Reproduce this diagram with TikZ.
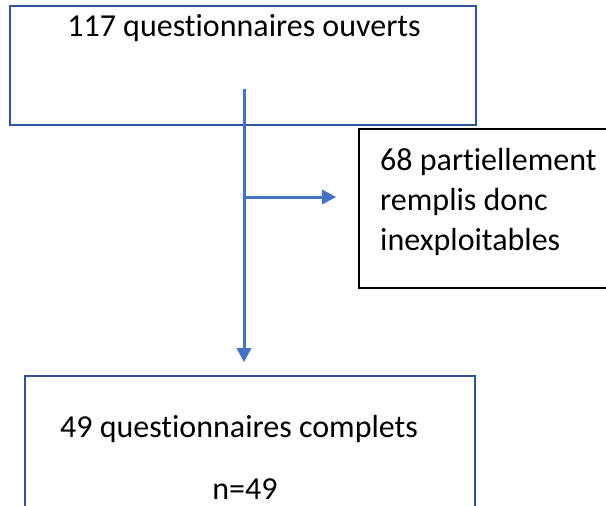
\documentclass[tikz,border=0pt]{standalone}
\usepackage{fontspec}
\setmainfont[Ligatures=NoCommon]{Carlito}
\usetikzlibrary{arrows.meta}
\definecolor{boxblue}{HTML}{2F5597}
\definecolor{arrowblue}{HTML}{4472C4}
\tikzset{
  bluebox/.style={draw=boxblue, line width=1.6pt, rectangle, inner sep=0pt},
  blackbox/.style={draw=black, line width=1.6pt, rectangle, inner sep=0pt},
  lbl/.style={font=\fontsize{32}{40}\selectfont, inner sep=0pt},
  flow/.style={draw=arrowblue, line width=3pt, -{Triangle[length=14pt,width=14pt]}}
}
\begin{document}
\begin{tikzpicture}[x=1pt,y=-1pt]
\clip (0,0) rectangle (606,506);
\fill[white] (0,0) rectangle (606,506);
\node[bluebox, minimum width=466pt, minimum height=119pt] (top) at (243,65.5) {};
\node[lbl] (toptext) at (244,28) {117 questionnaires ouverts};
\node[blackbox, minimum width=281pt, minimum height=159pt] (right) at (499.5,208.5) {};
\node[lbl, align=left, anchor=west] (righttext) at (380,202) {68 partiellement\\remplis donc\\inexploitables};
\node[bluebox, minimum width=450pt, minimum height=170pt] (bot) at (250,461) {};
\node[lbl] (bottext) at (239,429) {49 questionnaires complets};
\node[lbl] (botn) at (245,489) {n=49};
\coordinate (vstart) at (244,89);
\coordinate (branch) at (244,197);
\draw[flow, shorten >=13pt] (vstart) -- (vstart |- bot.north);
\draw[flow, shorten >=22pt] (branch) -- (branch -| right.west);
\end{tikzpicture}
\end{document}
